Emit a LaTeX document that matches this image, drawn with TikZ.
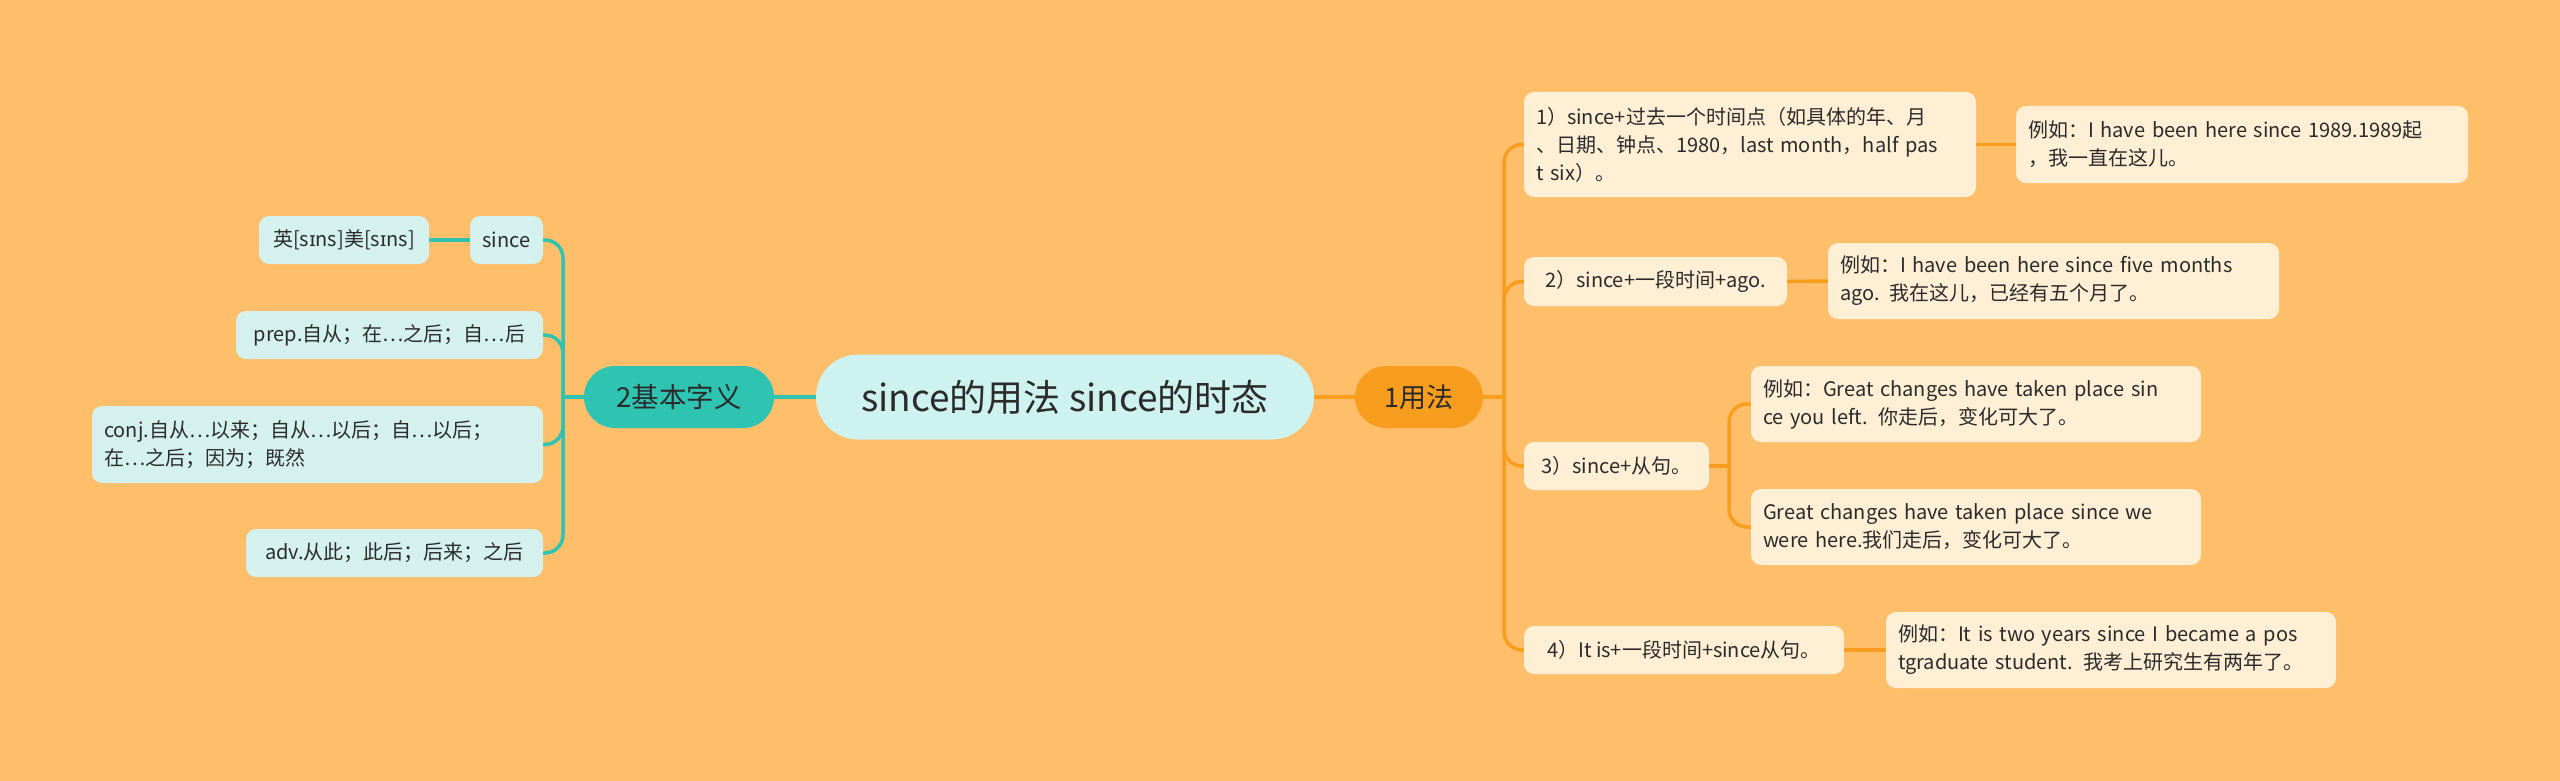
\documentclass[tikz,border=0pt]{standalone}
\usepackage{fontspec}
\setmainfont{Noto Sans CJK SC}
\newfontfamily\ipafont{Noto Sans}
\definecolor{bg}{HTML}{FEBE6A}
\definecolor{centerfill}{HTML}{CDF2EF}
\definecolor{tealc}{HTML}{2FC4B2}
\definecolor{orangec}{HTML}{F99D1E}
\definecolor{leftleaf}{HTML}{D4F1EE}
\definecolor{rightleaf}{HTML}{FEEFD5}
\definecolor{txt}{HTML}{2B2B2B}
\newcommand{\ipai}{{\ipafont ɪ}}
\tikzset{
  x=1pt,y=1pt,
  leafbase/.style={rounded corners=10pt, inner sep=0pt, text=txt, font=\fontsize{20}{28}\selectfont, align=left},
  lleaf/.style={leafbase, fill=leftleaf},
  rleaf/.style={leafbase, fill=rightleaf},
  tline/.style={draw=tealc, line width=3.5pt},
  oline/.style={draw=orangec, line width=3.5pt},
}
\begin{document}
\begin{tikzpicture}
\fill[bg] (0,0) rectangle (2560,-781);
\useasboundingbox (0,0) rectangle (2560,-781);
% central
\node[fill=centerfill, rounded corners=42pt, minimum width=498pt, minimum height=85pt, inner sep=0pt, text=txt, font=\fontsize{37}{42}\selectfont] (c) at (1065,-397) {since的用法 since的时态};
\node[fill=tealc, rounded corners=31pt, minimum width=190pt, minimum height=62pt, inner sep=0pt, text=txt, font=\fontsize{27.5}{30}\selectfont] (basic) at (679,-397) {2基本字义};
\node[fill=orangec, rounded corners=31pt, minimum width=128pt, minimum height=62pt, inner sep=0pt, text=txt, font=\fontsize{27}{30}\selectfont] (usage) at (1419,-397) {1用法};
% left leaves
\node[lleaf, minimum width=73pt, minimum height=48pt] (since) at (506.5,-240) {since};
\node[lleaf, minimum width=170pt, minimum height=48pt] (ying) at (344,-240) {英[s\ipai ns]美[s\ipai ns]};
\node[lleaf, minimum width=307pt, minimum height=48pt] (prep) at (389.5,-335) {prep.自从；在…之后；自…后};
\node[lleaf, minimum width=451pt, minimum height=77pt, text width=427pt] (conj) at (317.5,-444.5) {conj.自从…以来；自从…以后；自…以后；\\在…之后；因为；既然};
\node[lleaf, minimum width=297pt, minimum height=48pt] (adv) at (394.5,-553) {adv.从此；此后；后来；之后};
% right leaves
\node[rleaf, minimum width=452pt, minimum height=105pt, text width=428pt] (r1) at (1750,-144.5) {1）since+过去一个时间点（如具体的年、月\\、日期、钟点、1980，last month，half pas\\t six）。};
\node[rleaf, minimum width=452pt, minimum height=77pt, text width=428pt] (e1) at (2242,-144.5) {例如：I have been here since 1989.1989起\\，我一直在这儿。};
\node[rleaf, minimum width=263pt, minimum height=49pt] (r2) at (1655.5,-281.5) {2）since+一段时间+ago.};
\node[rleaf, minimum width=451pt, minimum height=76pt, text width=427pt] (e2) at (2053.5,-281) {例如：I have been here since five months\\ago. 我在这儿，已经有五个月了。};
\node[rleaf, minimum width=185pt, minimum height=48pt] (r3) at (1616.5,-466) {3）since+从句。};
\node[rleaf, minimum width=450pt, minimum height=76pt, text width=426pt] (e3a) at (1976,-404) {例如：Great changes have taken place sin\\ce you left. 你走后，变化可大了。};
\node[rleaf, minimum width=450pt, minimum height=76pt, text width=426pt] (e3b) at (1976,-527) {Great changes have taken place since we\\were here.我们走后，变化可大了。};
\node[rleaf, minimum width=320pt, minimum height=48pt] (r4) at (1684,-650) {4）It is+一段时间+since从句。};
\node[rleaf, minimum width=450pt, minimum height=76pt, text width=426pt] (e4) at (2111,-650) {例如：It is two years since I became a pos\\tgraduate student. 我考上研究生有两年了。};
% connectors
\coordinate (lj) at (563,-397);
\coordinate (rj) at (1504,-397);
\coordinate (r3j) at (1729,-466);
\draw[tline] (c.west) -- (basic.east);
\draw[oline] (c.east) -- (usage.west);
\draw[tline] (basic.west) -- (lj);
\foreach \n in {since,prep,conj,adv} \draw[tline, rounded corners=18pt] (lj) |- (\n.east);
\draw[tline] (since.west) -- (ying.east);
\draw[oline] (usage.east) -- (rj);
\foreach \n in {r1,r2,r3,r4} \draw[oline, rounded corners=18pt] (rj) |- (\n.west);
\draw[oline] (r1.east) -- (e1.west);
\draw[oline] (r2.east) -- (e2.west);
\draw[oline] (r3.east) -- (r3j);
\draw[oline, rounded corners=18pt] (r3j) |- (e3a.west);
\draw[oline, rounded corners=18pt] (r3j) |- (e3b.west);
\draw[oline] (r4.east) -- (e4.west);
\end{tikzpicture}
\end{document}
